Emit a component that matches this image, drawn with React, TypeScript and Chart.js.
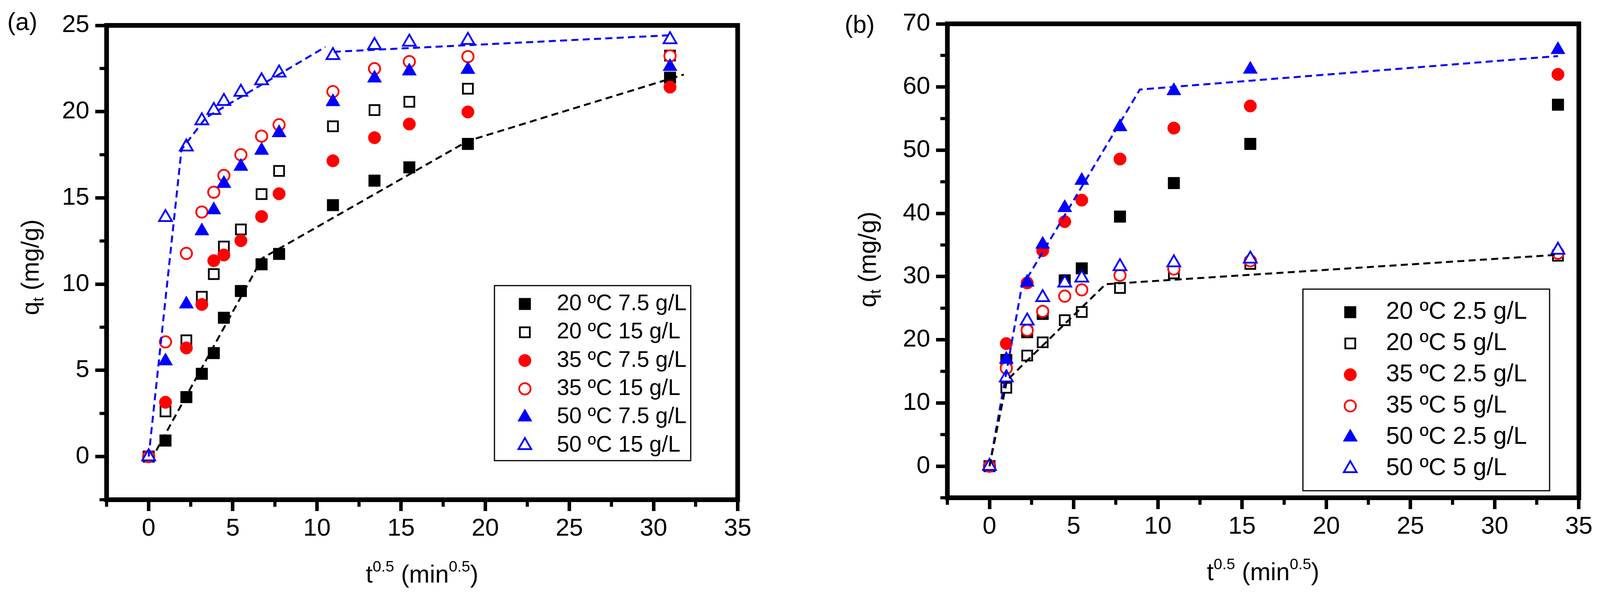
import { useEffect, useRef } from "react"
import { Chart, registerables, type ChartConfiguration, type Plugin } from "chart.js"

Chart.register(...registerables)

const FONT = 'Arial, "Liberation Sans", Helvetica, sans-serif'
const PAGE_W = 4158
const PAGE_H = 1528

// ---- panel (a): t^0.5 and q_t values ----
const xA = [0, 1, 2.24, 3.16, 3.87, 4.47, 5.48, 6.71, 7.75, 10.95, 13.42, 15.49, 18.97, 30.98]
const a20low = [0, 0.93, 3.45, 4.8, 6.0, 8.05, 9.6, 11.15, 11.75, 14.58, 16.0, 16.77, 18.13, 21.97]
const a20high = [0, 2.62, 6.74, 9.27, 10.58, 12.18, 13.17, 15.22, 16.56, 19.15, 20.09, 20.57, 21.33, 23.25]
const a35low = [0, 3.15, 6.3, 8.82, 11.36, 11.69, 12.52, 13.92, 15.24, 17.15, 18.49, 19.28, 19.98, 21.42]
const a35high = [0, 6.65, 11.78, 14.18, 15.33, 16.3, 17.5, 18.58, 19.24, 21.16, 22.49, 22.9, 23.19, 23.23]
const a50low = [0, 5.54, 8.84, 13.08, 14.3, 15.83, 16.82, 17.75, 18.77, 20.57, 21.94, 22.35, 22.44, 22.61]
const a50high = [0, 13.87, 17.96, 19.48, 20.08, 20.6, 21.13, 21.8, 22.25, 23.26, 23.85, 24.04, 24.14, 24.18]
const labelsA = ["20 ºC 7.5 g/L", "20 ºC 15 g/L", "35 ºC 7.5 g/L", "35 ºC 15 g/L", "50 ºC 7.5 g/L", "50 ºC 15 g/L"]

// dashed intraparticle-diffusion fits in (a)
const fitBlackAx = [0.45, 6.75, 18.97, 31.8]
const fitBlackAy = [0.35, 11.5, 18.3, 22.15]
const fitBlueAx = [0, 1.95, 3.4, 10.5]
const fitBlueAy = [0, 17.8, 19.65, 23.75]
const fitBlueA2x = [11.0, 31.0]
const fitBlueA2y = [23.47, 24.43]

// ---- panel (b) ----
const xB = [0, 1, 2.24, 3.16, 4.47, 5.48, 7.75, 10.95, 15.49, 33.76]
const b20low = [0, 16.8, 21.2, 24.1, 29.4, 31.3, 39.5, 44.8, 51.0, 57.2]
const b20high = [0, 12.4, 17.5, 19.6, 23.1, 24.4, 28.2, 30.5, 32.0, 33.3]
const b35low = [0, 19.4, 29.0, 34.1, 38.7, 42.1, 48.6, 53.5, 57.0, 62.0]
const b35high = [0, 15.5, 21.5, 24.5, 26.9, 27.9, 30.2, 31.2, 32.5, 33.7]
const b50low = [0, 16.9, 29.1, 35.1, 40.9, 45.2, 53.7, 59.4, 62.8, 65.9]
const b50high = [0, 14.0, 23.0, 26.7, 29.0, 29.8, 31.6, 32.2, 32.8, 34.2]
const labelsB = ["20 ºC 2.5 g/L", "20 ºC 5 g/L", "35 ºC 2.5 g/L", "35 ºC 5 g/L", "50 ºC 2.5 g/L", "50 ºC 5 g/L"]

const fitBlackBx = [0, 1.04, 6.9, 33.76]
const fitBlackBy = [0, 13.6, 28.8, 33.45]
const fitBlueBx = [0, 1.91, 8.93, 33.76]
const fitBlueBy = [0, 28.3, 59.6, 64.9]

// ---- axes ----
const xTicks = [0, 5, 10, 15, 20, 25, 30, 35]
const xMinorTicks = [-2.5, 2.5, 7.5, 12.5, 17.5, 22.5, 27.5, 32.5]
const yTicksA = [0, 5, 10, 15, 20, 25]
const yMinorTicksA = [-2.5, 2.5, 7.5, 12.5, 17.5, 22.5]
const yTicksB = [0, 10, 20, 30, 40, 50, 60, 70]
const yMinorTicksB = [-5, 5, 15, 25, 35, 45, 55, 65]

type Shape = "rect" | "circle" | "triangle"

const MARKERS: { shape: Shape; filled: boolean; color: string }[] = [
  { shape: "rect", filled: true, color: "#000000" },
  { shape: "rect", filled: false, color: "#000000" },
  { shape: "circle", filled: true, color: "#ff0000" },
  { shape: "circle", filled: false, color: "#ff0000" },
  { shape: "triangle", filled: true, color: "#0000ff" },
  { shape: "triangle", filled: false, color: "#0000ff" },
]
const OPEN_WIDTH = 4.5

function markerRadius(shape: Shape, filled: boolean) {
  if (shape === "rect") return filled ? 21 : 18
  if (shape === "circle") return filled ? 16 : 14.5
  return filled ? 21 : 19
}

// same geometry Chart.js uses for its point styles
function drawMarker(ctx: CanvasRenderingContext2D, shape: Shape, filled: boolean, color: string, x: number, y: number) {
  const r = markerRadius(shape, filled)
  ctx.save()
  ctx.beginPath()
  if (shape === "rect") {
    const s = r * Math.SQRT1_2
    ctx.rect(x - s, y - s, 2 * s, 2 * s)
  } else if (shape === "circle") {
    ctx.arc(x, y, r, 0, Math.PI * 2)
  } else {
    for (let k = 0; k < 3; k++) {
      const a = (k * 2 * Math.PI) / 3
      const px = x + Math.sin(a) * r
      const py = y - Math.cos(a) * r
      if (k === 0) ctx.moveTo(px, py)
      else ctx.lineTo(px, py)
    }
  }
  ctx.closePath()
  ctx.fillStyle = filled ? color : "#ffffff"
  ctx.fill()
  ctx.lineWidth = filled ? 1 : OPEN_WIDTH
  ctx.strokeStyle = color
  ctx.stroke()
  ctx.restore()
}

type Run = { text: string; size: number; dy: number }

function drawRuns(ctx: CanvasRenderingContext2D, runs: Run[], cx: number, baseline: number, k: number) {
  let total = 0
  for (const r of runs) {
    ctx.font = `${r.size * k}px ${FONT}`
    total += ctx.measureText(r.text).width
  }
  let x = cx - total / 2
  ctx.textAlign = "left"
  ctx.textBaseline = "alphabetic"
  for (const r of runs) {
    ctx.font = `${r.size * k}px ${FONT}`
    ctx.fillText(r.text, x, baseline + r.dy)
    x += ctx.measureText(r.text).width
  }
}

const X_TITLE: Run[] = [
  { text: "t", size: 64, dy: 0 },
  { text: "0.5", size: 40, dy: -28 },
  { text: " (min", size: 64, dy: 0 },
  { text: "0.5", size: 40, dy: -28 },
  { text: ")", size: 64, dy: 0 },
]
const Y_TITLE: Run[] = [
  { text: "q", size: 64, dy: 0 },
  { text: "t", size: 40, dy: 12 },
  { text: " (mg/g)", size: 64, dy: 0 },
]

interface Fit {
  x: number[]
  y: number[]
  color: string
}

// all positions below are in reference-page pixels (4158 wide)
interface PanelConfig {
  span: [number, number]
  name: string
  nameX: number
  nameBaseline: number
  x: number[]
  series: number[][]
  labels: string[]
  fits: Fit[]
  yMin: number
  yMax: number
  yTicks: number[]
  yMinor: number[]
  area: { left: number; top: number; right: number; bottom: number }
  yTitleX: number
  yTitleY: number
  xTitleBaseline: number
  legend: {
    left: number
    top: number
    right: number
    bottom: number
    firstRow: number
    rowGap: number
    markerX: number
    textX: number
    fontSize: number
  }
}

const panelA: PanelConfig = {
  span: [0, 2079],
  name: "(a)",
  nameX: 58,
  nameBaseline: 77,
  x: xA,
  series: [a20low, a20high, a35low, a35high, a50low, a50high],
  labels: labelsA,
  fits: [
    { x: fitBlackAx, y: fitBlackAy, color: "#000000" },
    { x: fitBlueAx, y: fitBlueAy, color: "#0000ff" },
    { x: fitBlueA2x, y: fitBlueA2y, color: "#0000ff" },
  ],
  yMin: -2.5,
  yMax: 25,
  yTicks: yTicksA,
  yMinor: yMinorTicksA,
  area: { left: 277, top: 65, right: 1917, bottom: 1279 },
  yTitleX: 101,
  yTitleY: 684,
  xTitleBaseline: 1491,
  legend: { left: 1285, top: 731, right: 1795, bottom: 1179, firstRow: 778, rowGap: 72.4, markerX: 1364, textX: 1447, fontSize: 58 },
}

const panelB: PanelConfig = {
  span: [2079, 4158],
  name: "(b)",
  nameX: 2234,
  nameBaseline: 84,
  x: xB,
  series: [b20low, b20high, b35low, b35high, b50low, b50high],
  labels: labelsB,
  fits: [
    { x: fitBlackBx, y: fitBlackBy, color: "#000000" },
    { x: fitBlueBx, y: fitBlueBy, color: "#0000ff" },
  ],
  yMin: -5,
  yMax: 70,
  yTicks: yTicksB,
  yMinor: yMinorTicksB,
  area: { left: 2462, top: 61, right: 4103, bottom: 1274 },
  yTitleX: 2276,
  yTitleY: 664,
  xTitleBaseline: 1485,
  legend: { left: 3386, top: 740, right: 4027, bottom: 1256, firstRow: 799, rowGap: 80, markerX: 3509, textX: 3602, fontSize: 63 },
}

function decorPlugin(p: PanelConfig, X: (v: number) => number, k: number): Plugin<"scatter"> {
  return {
    id: "panelDecor",
    afterDatasetsDraw(chart) {
      const { ctx, chartArea: ca, scales } = chart
      ctx.save()

      // minor ticks
      ctx.strokeStyle = "#000000"
      ctx.lineWidth = 8
      ctx.beginPath()
      for (const v of xMinorTicks) {
        const px = scales.x.getPixelForValue(v)
        ctx.moveTo(px, ca.bottom)
        ctx.lineTo(px, ca.bottom + 18)
      }
      for (const v of p.yMinor) {
        const py = scales.y.getPixelForValue(v)
        ctx.moveTo(ca.left - 18, py)
        ctx.lineTo(ca.left, py)
      }
      ctx.stroke()

      // frame
      ctx.lineWidth = 12
      ctx.strokeRect(ca.left, ca.top, ca.right - ca.left, ca.bottom - ca.top)

      // legend
      const lg = p.legend
      ctx.lineWidth = 3
      ctx.strokeRect(X(lg.left), lg.top, X(lg.right) - X(lg.left), lg.bottom - lg.top)
      p.labels.forEach((label, i) => {
        const m = MARKERS[i]
        const y = lg.firstRow + i * lg.rowGap
        drawMarker(ctx, m.shape, m.filled, m.color, X(lg.markerX), y)
        ctx.fillStyle = "#000000"
        ctx.font = `${lg.fontSize * k}px ${FONT}`
        ctx.textAlign = "left"
        ctx.textBaseline = "middle"
        ctx.fillText(label, X(lg.textX), y)
      })

      // axis titles
      ctx.fillStyle = "#000000"
      drawRuns(ctx, X_TITLE, (ca.left + ca.right) / 2, p.xTitleBaseline, k)
      ctx.save()
      ctx.translate(X(p.yTitleX), p.yTitleY)
      ctx.rotate(-Math.PI / 2)
      drawRuns(ctx, Y_TITLE, 0, 0, k)
      ctx.restore()

      // panel letter
      ctx.font = `${64 * k}px ${FONT}`
      ctx.textAlign = "center"
      ctx.textBaseline = "alphabetic"
      ctx.fillText(p.name, X(p.nameX), p.nameBaseline)

      ctx.restore()
    },
  }
}

function buildConfig(p: PanelConfig, sx: number, canvasLeft: number, canvasW: number): ChartConfiguration<"scatter"> {
  const X = (v: number) => v * sx - canvasLeft
  const k = sx

  const seriesSets = p.series.map((ys, i) => {
    const m = MARKERS[i]
    return {
      label: p.labels[i],
      data: p.x.map((x, j) => ({ x, y: ys[j] })),
      pointStyle: m.shape,
      pointRadius: markerRadius(m.shape, m.filled),
      pointBackgroundColor: m.filled ? m.color : "#ffffff",
      pointBorderColor: m.color,
      pointBorderWidth: m.filled ? 1 : OPEN_WIDTH,
      showLine: false,
      order: 10 - i,
    }
  })
  const fitSets = p.fits.map((f) => ({
    label: "",
    data: f.x.map((x, j) => ({ x, y: f.y[j] })),
    showLine: true,
    pointRadius: 0,
    borderColor: f.color,
    borderWidth: 5,
    borderDash: [18, 11],
    fill: false,
    order: 0,
  }))

  const tickFont = { family: FONT, size: 64 * k }
  const grid = {
    display: true,
    drawOnChartArea: false,
    drawTicks: true,
    tickLength: 29,
    tickWidth: 9,
    tickColor: "#000000",
  }

  return {
    type: "scatter",
    data: { datasets: [...seriesSets, ...fitSets] as any },
    options: {
      animation: false,
      responsive: false,
      devicePixelRatio: 1,
      events: [],
      layout: {
        padding: { left: 0, top: p.area.top, right: canvasW - X(p.area.right), bottom: 0 },
      },
      plugins: {
        legend: { display: false },
        tooltip: { enabled: false },
      },
      scales: {
        x: {
          type: "linear",
          min: -2.5,
          max: 35,
          grid,
          border: { display: false },
          ticks: { font: tickFont, color: "#000000", padding: 8, maxRotation: 0 },
          afterBuildTicks: (axis) => {
            axis.ticks = xTicks.map((value) => ({ value }))
          },
          afterFit: (axis) => {
            axis.height = PAGE_H - p.area.bottom
          },
        },
        y: {
          type: "linear",
          min: p.yMin,
          max: p.yMax,
          grid,
          border: { display: false },
          ticks: { font: tickFont, color: "#000000", padding: 15 },
          afterBuildTicks: (axis) => {
            axis.ticks = p.yTicks.map((value) => ({ value }))
          },
          afterFit: (axis) => {
            axis.width = X(p.area.left)
          },
        },
      },
    },
    plugins: [decorPlugin(p, X, k)],
  }
}

function Panel({ cfg, sx }: { cfg: PanelConfig; sx: number }) {
  const canvasRef = useRef<HTMLCanvasElement>(null)
  const chartInstance = useRef<Chart<"scatter"> | null>(null)
  const left = Math.round(cfg.span[0] * sx)
  const width = Math.round(cfg.span[1] * sx) - left

  useEffect(() => {
    if (!canvasRef.current) return
    if (chartInstance.current) chartInstance.current.destroy()
    chartInstance.current = new Chart(canvasRef.current, buildConfig(cfg, sx, left, width))
    return () => {
      if (chartInstance.current) {
        chartInstance.current.destroy()
        chartInstance.current = null
      }
    }
  }, [cfg, sx, left, width])

  return (
    <canvas
      ref={canvasRef}
      width={width}
      height={PAGE_H}
      style={{ position: "absolute", left, top: 0, width, height: PAGE_H, display: "block" }}
    />
  )
}

export default function App() {
  // the viewport can be narrower than the figure; squeeze horizontally to fit
  const sx = Math.min(1, window.innerWidth / PAGE_W)

  useEffect(() => {
    document.body.style.margin = "0"
  }, [])

  return (
    <div
      style={{
        position: "absolute",
        left: 0,
        top: 0,
        width: PAGE_W * sx,
        height: PAGE_H,
        background: "#ffffff",
        overflow: "hidden",
      }}
    >
      <Panel cfg={panelA} sx={sx} />
      <Panel cfg={panelB} sx={sx} />
    </div>
  )
}
